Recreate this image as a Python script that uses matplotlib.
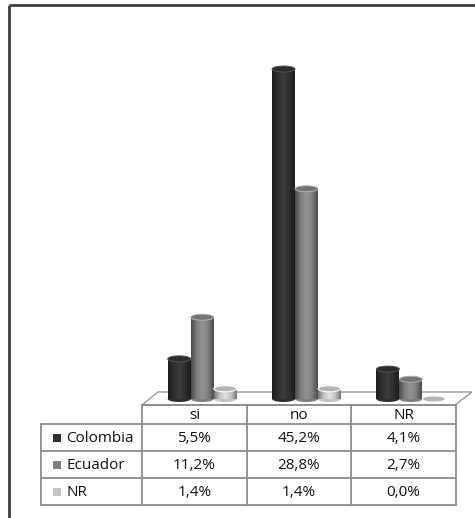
import numpy as np
import matplotlib
matplotlib.use("Agg")
import matplotlib.pyplot as plt
from matplotlib.patches import Ellipse, Polygon, Rectangle
from matplotlib.colors import LinearSegmentedColormap, to_rgb

# respuestas por pais (%)
categorias = ["si", "no", "NR"]
series = ["Colombia", "Ecuador", "NR"]
colombia = [5.5, 45.2, 4.1]
ecuador = [11.2, 28.8, 2.7]
nr = [1.4, 1.4, 0.0]
valores = [colombia, ecuador, nr]
colores = ["#2f2f2f", "#7e7e7e", "#c4c4c4"]

plt.rcParams["font.family"] = ["Open Sans", "DejaVu Sans"]

W, H = 475, 518
fig = plt.figure(figsize=(W / 100, H / 100), dpi=100)
fig.patch.set_facecolor("white")

# lienzo en pixeles para marco, piso y tabla
cv = fig.add_axes([0, 0, 1, 1])
cv.set_xlim(0, W)
cv.set_ylim(H, 0)
cv.axis("off")

cv.plot([9, 9], [5, H], color="#404040", lw=2, solid_capstyle="butt")
cv.plot([9, W], [5, 5], color="#404040", lw=2, solid_capstyle="butt")

# piso en perspectiva
cv.add_patch(Polygon([(142, 405), (158, 392), (472, 392), (455, 405)],
                     closed=True, facecolor="white", edgecolor="#9a9a9a", lw=1))

# tabla de datos
col_x = [41, 142, 247, 351, 456]
fila_y = [405, 424, 451, 478, 505]
gris = "#8c8c8c"
for x in col_x[1:]:
    cv.plot([x, x], [fila_y[0], fila_y[-1]], color=gris, lw=1.3)
cv.plot([col_x[0], col_x[0]], [fila_y[1], fila_y[-1]], color=gris, lw=1.3)
cv.plot([col_x[1], col_x[-1]], [fila_y[0], fila_y[0]], color=gris, lw=1.3)
for y in fila_y[1:]:
    cv.plot([col_x[0], col_x[-1]], [y, y], color=gris, lw=1.3)

fs = 11
for j, cat in enumerate(categorias):
    cx = (col_x[j + 1] + col_x[j + 2]) / 2
    cv.text(cx, (fila_y[0] + fila_y[1]) / 2 + 1, cat, ha="center", va="center",
            fontsize=fs, color="#111111")
for i, (nombre, vals) in enumerate(zip(series, valores)):
    cy = (fila_y[i + 1] + fila_y[i + 2]) / 2 + 1
    cv.add_patch(Rectangle((53, cy - 5), 8, 8, facecolor=colores[i],
                           edgecolor="none"))
    cv.text(66, cy, nombre, ha="left", va="center", fontsize=fs, color="#111111")
    for j, v in enumerate(vals):
        cx = (col_x[j + 1] + col_x[j + 2]) / 2
        cv.text(cx, cy, f"{v:.1f}%".replace(".", ","), ha="center", va="center",
                fontsize=fs, color="#111111")

# barras cilindricas
px_pct = 7.3
alto_px = 379
ax = fig.add_axes([150 / W, (H - 399) / H, 313 / W, alto_px / H])
ax.patch.set_alpha(0)
ax.axis("off")
ymax = alto_px / px_pct
ancho = 0.22
elip_h = 6 / px_pct
x = np.arange(len(categorias))


def sombra(color):
    r, g, b = to_rgb(color)
    osc = tuple(c * 0.6 for c in (r, g, b))
    cla = tuple(min(1, c * 1.1 + 0.03) for c in (r, g, b))
    return LinearSegmentedColormap.from_list(
        "cil", [osc, (r, g, b), cla, (r, g, b), osc])


grad = np.linspace(0, 1, 64).reshape(1, -1)
for i, vals in enumerate(valores):
    xs = x + (i - 1) * ancho
    col = colores[i]
    cmap = sombra(col)
    r, g, b = to_rgb(col)
    barras = ax.bar(xs, vals, width=ancho, color=col, edgecolor="none", zorder=2)
    for xb, v, rect in zip(xs, vals, barras):
        ax.add_patch(Ellipse((xb, 0), ancho, elip_h, facecolor=(r, g, b),
                             edgecolor="none", zorder=1, clip_on=False))
        if v > 0:
            im = ax.imshow(grad, cmap=cmap, aspect="auto", zorder=3,
                           extent=(xb - ancho / 2, xb + ancho / 2, 0, v))
            im.set_clip_path(rect)
        tapa = tuple(c * 0.92 for c in (r, g, b))
        borde = tuple(min(1, c * 1.2 + 0.1) for c in (r, g, b))
        ax.add_patch(Ellipse((xb, v), ancho, elip_h, facecolor=tapa,
                             edgecolor=borde, lw=0.7, zorder=4, clip_on=False))

ax.set_xlim(-0.5, 2.5)
ax.set_ylim(0, ymax)

fig.savefig("out.png", dpi=100)
